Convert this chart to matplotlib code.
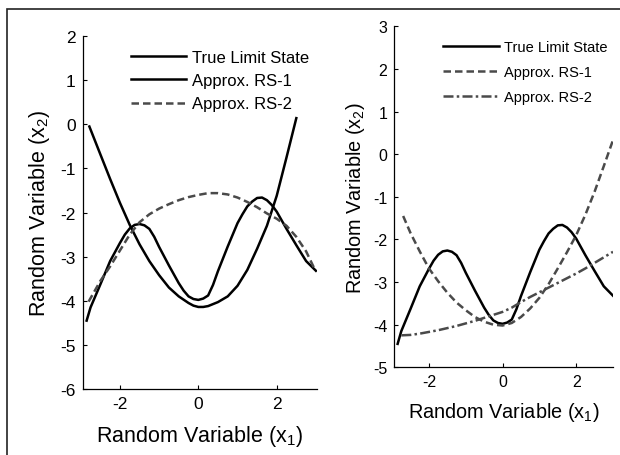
import matplotlib
matplotlib.use("Agg")
import matplotlib.pyplot as plt
from matplotlib.patches import Rectangle

plt.rcParams['font.family'] = ['Liberation Sans', 'DejaVu Sans']
plt.rcParams['mathtext.default'] = 'regular'
plt.rcParams['axes.unicode_minus'] = False

# ----------------------------
# Data: limit state curves
# ----------------------------
x_true = [-2.85, -2.75, -2.5, -2.25, -2.0, -1.875, -1.75, -1.625, -1.5, -1.375, -1.25, -1.125,
          -1.0, -0.75, -0.5, -0.375, -0.25, -0.125, 0.0, 0.125, 0.25, 0.375, 0.5, 0.75,
          1.0, 1.125, 1.25, 1.375, 1.5, 1.625, 1.75, 1.875, 2.0, 2.25, 2.5, 2.75, 3.0]
y_true = [-4.45, -4.15, -3.63, -3.10, -2.69, -2.50, -2.36, -2.28, -2.26, -2.29, -2.37, -2.55,
          -2.78, -3.20, -3.60, -3.77, -3.90, -3.96, -3.98, -3.95, -3.88, -3.64, -3.33, -2.77,
          -2.24, -2.04, -1.86, -1.75, -1.67, -1.66, -1.72, -1.83, -1.98, -2.37, -2.74, -3.10, -3.32]

# left panel approximations
x_left_rs1 = [-2.78, -2.5, -2.25, -2.0, -1.75, -1.5, -1.25, -1.0, -0.75, -0.5, -0.25, -0.125,
              0.0, 0.125, 0.25, 0.5, 0.75, 1.0, 1.25, 1.5, 1.75, 2.0, 2.25, 2.5]
y_left_rs1 = [-0.05, -0.68, -1.24, -1.78, -2.28, -2.72, -3.10, -3.42, -3.70, -3.90, -4.05, -4.11,
              -4.14, -4.14, -4.12, -4.03, -3.90, -3.66, -3.30, -2.82, -2.30, -1.62, -0.75, 0.14]

x_left_rs2 = [-2.8, -2.5, -2.25, -2.0, -1.75, -1.5, -1.25, -1.0, -0.75, -0.5, -0.25,
              0.0, 0.25, 0.5, 0.75, 1.0, 1.25, 1.5, 1.75, 2.0, 2.25, 2.5, 2.75, 2.95]
y_left_rs2 = [-4.02, -3.55, -3.22, -2.86, -2.50, -2.22, -2.04, -1.91, -1.81, -1.72, -1.65,
              -1.60, -1.56, -1.56, -1.59, -1.66, -1.76, -1.88, -2.02, -2.14, -2.30, -2.55, -2.88, -3.25]

# right panel approximations
x_right_rs1 = [-2.7, -2.5, -2.25, -2.0, -1.75, -1.5, -1.25, -1.0, -0.75, -0.5, -0.25,
               0.0, 0.25, 0.5, 0.75, 1.0, 1.25, 1.5, 1.75, 2.0, 2.25, 2.5, 2.75, 3.0]
y_right_rs1 = [-1.45, -1.85, -2.28, -2.68, -2.98, -3.25, -3.48, -3.66, -3.82, -3.93, -4.00,
               -4.02, -3.96, -3.82, -3.62, -3.37, -3.05, -2.68, -2.30, -1.90, -1.42, -0.88, -0.28, 0.33]

x_right_rs2 = [-2.75, -2.5, -2.25, -2.0, -1.75, -1.5, -1.25, -1.0, -0.75, -0.5, -0.25,
               0.0, 0.25, 0.5, 0.75, 1.0, 1.25, 1.5, 1.75, 2.0, 2.25, 2.5, 2.75, 3.0]
y_right_rs2 = [-4.25, -4.24, -4.21, -4.17, -4.13, -4.08, -4.03, -3.97, -3.91, -3.84, -3.77,
               -3.70, -3.60, -3.47, -3.35, -3.24, -3.13, -3.02, -2.91, -2.80, -2.68, -2.55, -2.42, -2.29]

legend_labels = ['True Limit State', 'Approx. RS-1', 'Approx. RS-2']
x_ticks = [-2, 0, 2]
left_yticks = [-6, -5, -4, -3, -2, -1, 0, 1, 2]
right_yticks = [-5, -4, -3, -2, -1, 0, 1, 2, 3]

gray = '#4a4a4a'


def style_axes(ax, tick_size):
    ax.spines['top'].set_visible(False)
    ax.spines['right'].set_visible(False)
    for s in ['left', 'bottom']:
        ax.spines[s].set_linewidth(0.9)
    ax.tick_params(direction='in', length=3, width=0.8, labelsize=tick_size, pad=5)


fig = plt.figure(figsize=(6.2, 4.56), dpi=100)

# ----------------------------
# Left panel
# ----------------------------
ax1 = fig.add_axes([0.1334, 0.1447, 0.3774, 0.774])
ax1.plot(x_true, y_true, color='black', lw=1.8, label=legend_labels[0])
ax1.plot(x_left_rs1, y_left_rs1, color='black', lw=1.8, label=legend_labels[1])
ax1.plot(x_left_rs2, y_left_rs2, color=gray, lw=1.8, ls=(0, (3, 1.6)), label=legend_labels[2])
ax1.set_xlim(-2.95, 3.02)
ax1.set_ylim(-6, 2)
ax1.set_xticks(x_ticks)
ax1.set_yticks(left_yticks)
style_axes(ax1, 12.5)
ax1.set_xlabel('Random Variable (x$_1$)', fontsize=15.5, labelpad=9)
ax1.set_ylabel('Random Variable (x$_2$)', fontsize=15.5, labelpad=6)
ax1.legend(loc='upper left', bbox_to_anchor=(0.17, 0.985), frameon=False, fontsize=12,
           handlelength=3.3, handletextpad=0.4, labelspacing=0.5, borderpad=0)

# ----------------------------
# Right panel
# ----------------------------
ax2 = fig.add_axes([0.636, 0.1923, 0.3527, 0.7478])
ax2.plot(x_true, y_true, color='black', lw=1.8, label=legend_labels[0])
ax2.plot(x_right_rs1, y_right_rs1, color=gray, lw=1.8, ls=(0, (3, 1.6)), label=legend_labels[1])
ax2.plot(x_right_rs2, y_right_rs2, color=gray, lw=1.8, ls=(0, (4, 1.3, 1, 1.3)), label=legend_labels[2])
ax2.set_xlim(-2.94, 3.0)
ax2.set_ylim(-5, 3)
ax2.set_xticks(x_ticks)
ax2.set_yticks(right_yticks)
style_axes(ax2, 11.5)
ax2.set_xlabel('Random Variable (x$_1$)', fontsize=14.3, labelpad=8)
ax2.set_ylabel('Random Variable (x$_2$)', fontsize=14.3, labelpad=4)
ax2.legend(loc='upper left', bbox_to_anchor=(0.19, 0.98), frameon=False, fontsize=10.5,
           handlelength=3.8, handletextpad=0.4, labelspacing=0.75, borderpad=0)

# outer frame
fig.add_artist(Rectangle((7 / 620, -0.2), 1.2, 1.2 - 10 / 456, transform=fig.transFigure,
                         fill=False, lw=1.2, edgecolor='#222222'))

fig.savefig('out.png', dpi=100)
